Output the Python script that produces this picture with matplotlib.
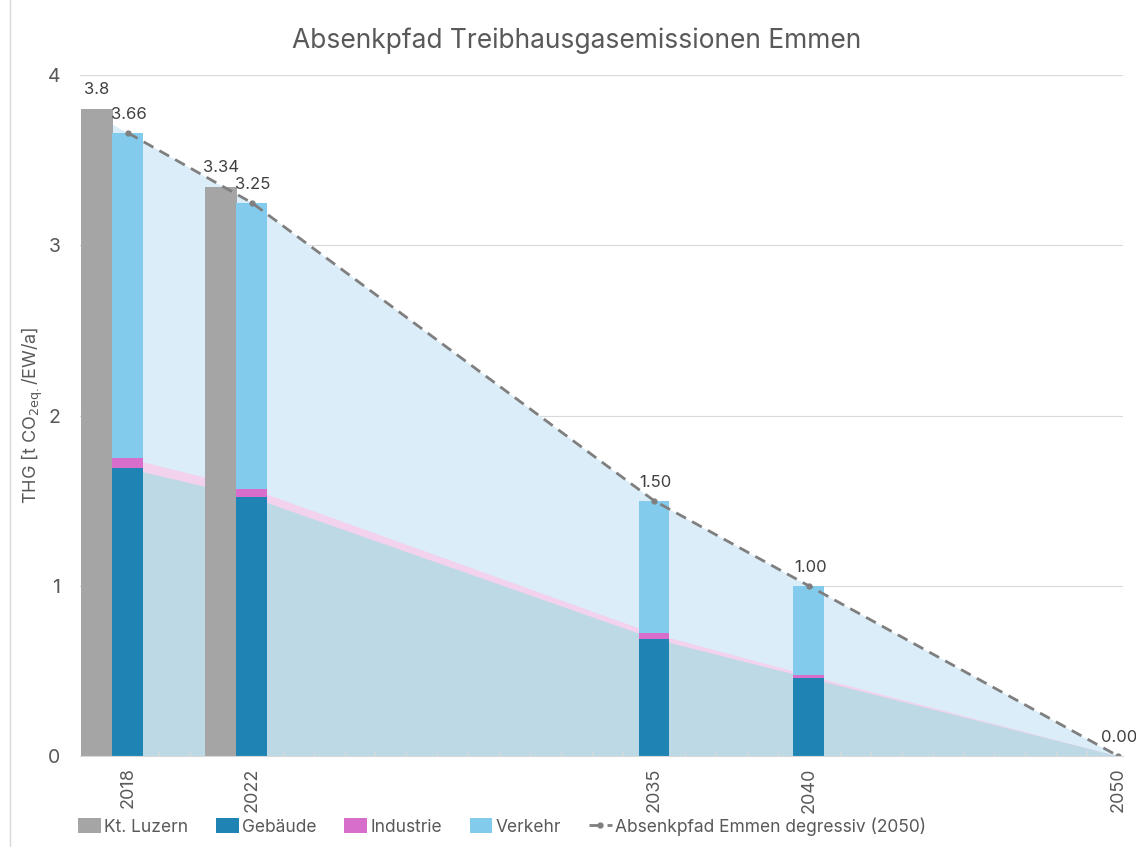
import numpy as np
import matplotlib.pyplot as plt

plt.rcParams['font.family'] = ['Inter', 'DejaVu Sans']

# values
years = [2018, 2022, 2035, 2040, 2050]
luzern_years = [2018, 2022]
luzern = [3.80, 3.34]
gebaeude = [1.69, 1.52, 0.69, 0.46, 0.0]
industrie = [0.06, 0.05, 0.03, 0.015, 0.0]
pfad = [3.66, 3.25, 1.50, 1.00, 0.00]
bar_years = [2018, 2022, 2035, 2040]

c_grey = '#A5A5A5'
c_geb = '#1F83B4'
c_ind = '#D86ECC'
c_verk = '#82CBEC'
txt = '#595959'

fig = plt.figure(figsize=(11.36, 8.47), dpi=100)
ax = fig.add_axes([0.0704, 0.1074, 0.918, 0.804])

yrs = np.array(years, dtype=float)
geb = np.array(gebaeude)
ind = np.array(industrie)
pf = np.array(pfad)

# areas (extend half a year to the left like the Excel date axis)
x0 = yrs[0] - 0.5
def ext(v):
    slope = (v[1] - v[0]) / (yrs[1] - yrs[0])
    return np.concatenate([[v[0] - slope * 0.5], v])
xa = np.concatenate([[x0], yrs])
ax.fill_between(xa, 0, ext(pf), color='#DAEDF8', lw=0, zorder=1)
ax.fill_between(xa, 0, ext(geb + ind), color='#F3D2EE', lw=0, zorder=1)
ax.fill_between(xa, 0, ext(geb), color='#BDD9E5', lw=0, zorder=1)

for g in [1, 2, 3, 4]:
    ax.axhline(g, color='#D9D9D9', lw=0.8, zorder=0.5)

# bars
n = len(bar_years)
verk = pf[:n] - geb[:n] - ind[:n]
ax.bar(np.array(luzern_years) - 1, luzern, width=1.02, color=c_grey, zorder=3, label='Kt. Luzern')
ax.bar(bar_years, geb[:n], width=1.0, color=c_geb, zorder=3, label='Gebäude')
ax.bar(bar_years, ind[:n], bottom=geb[:n], width=1.0, color=c_ind, zorder=3, label='Industrie')
ax.bar(bar_years, verk, bottom=geb[:n] + ind[:n], width=1.0, color=c_verk, zorder=3, label='Verkehr')

ax.plot(yrs, pf, color='#7F7F7F', lw=2, ls=(0, (4, 2.5)), marker='o', ms=3.5, zorder=4,
        label='Absenkpfad Emmen degressiv (2050)')

for x, v in zip(np.array(luzern_years) - 1, luzern):
    ax.annotate(f'{v:g}', (x, v), xytext=(0, 9), textcoords='offset points',
                ha='center', va='bottom', fontsize=12, color='#404040', zorder=5)
for x, v in zip(yrs, pf):
    ax.annotate(f'{v:.2f}', (x, v), xytext=(1, 8), textcoords='offset points',
                ha='center', va='bottom', fontsize=12, color='#404040', zorder=5)

ax.set_xlim(2016.45, 2050.15)
ax.set_ylim(0, 4)
ax.set_yticks([0, 1, 2, 3, 4])
ax.set_xticks(years)
ax.set_xticks(np.arange(2017, 2051), minor=True)
ax.tick_params(axis='x', which='major', labelrotation=90, length=0, labelsize=13,
               labelcolor=txt, pad=8)
ax.tick_params(axis='x', which='minor', direction='in', length=4, color='#D9D9D9')
ax.tick_params(axis='y', length=0, labelsize=14, labelcolor=txt, pad=14)
for s in ['top', 'right', 'left']:
    ax.spines[s].set_visible(False)
ax.spines['bottom'].set_color('#D9D9D9')
ax.spines['bottom'].set_zorder(6)

ax.set_ylabel(r'THG [t CO$_{\mathrm{2eq.}}$/EW/a]', fontsize=13, color=txt)
ax.yaxis.set_label_coords(-0.034, 0.5)
fig.suptitle('Absenkpfad Treibhausgasemissionen Emmen', x=0.508, y=0.968, fontsize=19,
             color=txt)

h, l = ax.get_legend_handles_labels()
order = [1, 2, 3, 4, 0]
fig.legend([h[i] for i in order], [l[i] for i in order], loc='lower left',
           bbox_to_anchor=(0.055, -0.005), ncol=5, frameon=False, fontsize=12.5,
           handlelength=1.3, handleheight=0.9, handletextpad=0.2, columnspacing=1.6,
           labelcolor=txt)

fig.add_artist(plt.Line2D([0.0085, 0.0085], [0, 1], color='#D9D9D9', lw=1,
                          transform=fig.transFigure))

fig.savefig('out.png', dpi=100)
